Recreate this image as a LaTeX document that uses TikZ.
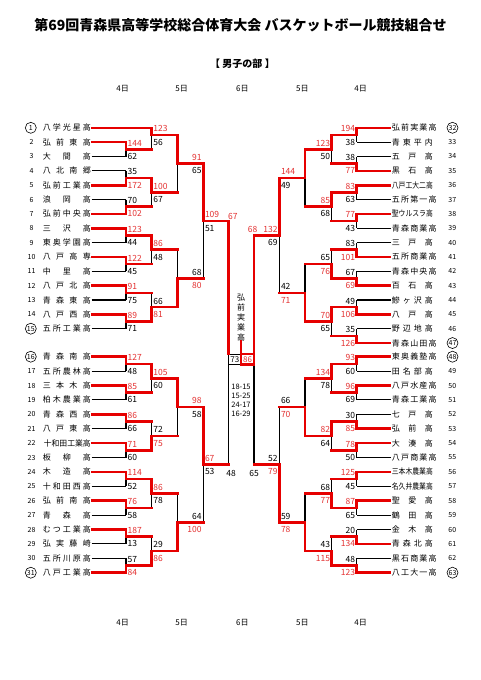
\documentclass[tikz,border=0pt]{standalone}
\usepackage{fontspec}
\setmainfont{Noto Sans CJK JP}
\usepackage{graphicx}
\pgfdeclarelayer{fg}
\pgfsetlayers{main,fg}
\definecolor{linered}{RGB}{230,0,0}
\definecolor{textred}{RGB}{228,50,50}
\newcounter{sc}
\def\splitsc#1/#2\relax{\def\sct{#1}\def\scb{#2}}
\tikzset{
 blk/.style={line width=1.1pt,black},
 win/.style={line width=2.6pt,linered,line cap=rect,line join=miter},
 scr/.style={inner sep=0pt,text=textred,font=\fontsize{8.5}{9}\selectfont},
 sck/.style={inner sep=0pt,text=black,font=\fontsize{8.5}{9}\selectfont},
 nm/.style={inner sep=0pt,font=\fontsize{8}{9}\selectfont},
 num/.style={inner sep=0pt,font=\fontsize{7}{8}\selectfont},
 seed/.style={circle,draw,line width=0.6pt,minimum size=11pt,inner sep=0pt},
 day/.style={inner sep=0pt,font=\fontsize{8}{9}\selectfont},
}
% #1 anchor, #2 label x, #3 x, #4 next x, #5 y top, #6 y bottom, #7 y out, #8 winner t/b, #9 scores
\newcommand\mtch[9]{%
 \pgfmathsetmacro\yT{#5}\pgfmathsetmacro\yB{#6}\pgfmathsetmacro\yO{#7}%
 \splitsc#9\relax
 \stepcounter{sc}\edef\scn{\arabic{sc}}%
 \draw[blk] (#3,\yT) -- (#3,\yB);
 \if t#8%
  \begin{pgfonlayer}{fg}\draw[win] (#3,\yT) -- (#3,\yO) -- (#4,\yO);\end{pgfonlayer}
  \node[scr,anchor=#1] (s\scn u) at (#2,\yO-6.2) {\sct};
  \node[sck,anchor=#1] (s\scn l) at (#2,\yO+7.2) {\scb};
 \else
  \begin{pgfonlayer}{fg}\draw[win] (#3,\yB) -- (#3,\yO) -- (#4,\yO);\end{pgfonlayer}
  \node[sck,anchor=#1] (s\scn u) at (#2,\yO-6.2) {\sct};
  \node[scr,anchor=#1] (s\scn l) at (#2,\yO+7.2) {\scb};
 \fi
}
% #1 num, #2 y, #3 name, #4 end x, #5 r/k, #6 s/n
\newcommand\teamL[6]{%
 \pgfmathsetmacro\tY{#2}%
 \node[nm,anchor=east] (tL#1) at (91,\tY) {\makebox[48pt][s]{#3}};
 \if s#6\node[num,seed] (nL#1) at (30.8,\tY) {#1};\else\node[num] (nL#1) at (31.5,\tY) {#1};\fi
 \if r#5\begin{pgfonlayer}{fg}\draw[win] ([xshift=1.6pt]tL#1.east) -- (#4,\tY);\end{pgfonlayer}%
 \else\draw[blk] ([xshift=0.5pt]tL#1.east) -- (#4,\tY);\fi
}
\newcommand\teamR[6]{%
 \pgfmathsetmacro\tY{#2}%
 \node[nm,anchor=west] (tR#1) at (391.7,\tY) {\makebox[41pt][s]{#3}};
 \if s#6\node[num,seed] (nR#1) at (452.5,\tY) {#1};\else\node[num] (nR#1) at (452.3,\tY) {#1};\fi
 \if r#5\begin{pgfonlayer}{fg}\draw[win] ([xshift=-1.6pt]tR#1.west) -- (#4,\tY);\end{pgfonlayer}%
 \else\draw[blk] ([xshift=-0.5pt]tR#1.west) -- (#4,\tY);\fi
}
\begin{document}
\begin{tikzpicture}[x=1pt,y=-1pt,
 declare function={ltop(\i)=127.8+(\i-1)*14.35; lbot(\i)=356.7+(\i-16)*14.4;
  rtop(\i)=127.8+(\i-32)*14.35; rbot(\i)=356.7+(\i-48)*14.4;}]
\fill[white] (0,0) rectangle (481,680);
\useasboundingbox (0,0) rectangle (481,680);

\node[inner sep=0pt,font=\bfseries\fontsize{14}{16}\selectfont] (title) at (240.5,25) {第69回青森県高等学校総合体育大会 バスケットボール競技組合せ};
\node[inner sep=0pt,font=\bfseries\fontsize{10}{12}\selectfont] (sub) at (242.5,63.3) {【 男子の部 】};
\foreach \x/\d [count=\k] in {122.7/4,181.7/5,242.3/6,302.3/5,360.7/4}{
 \node[day] (dt\k) at (\x,88.3) {\d 日};
 \node[day] (db\k) at (\x,622.3) {\d 日};
}

% left teams
\teamL{1}{ltop(1)}{八 学 光 星 高}{151.7}{r}{s}
\teamL{2}{ltop(2)}{弘 前 東 高}{126}{r}{n}
\teamL{3}{ltop(3)}{大 間 高}{126}{k}{n}
\teamL{4}{ltop(4)}{八 北 南 郷}{126}{k}{n}
\teamL{5}{ltop(5)}{弘 前 工 業 高}{126}{r}{n}
\teamL{6}{ltop(6)}{浪 岡 高}{126}{k}{n}
\teamL{7}{ltop(7)}{弘 前 中 央 高}{126}{r}{n}
\teamL{8}{ltop(8)}{三 沢 高}{126}{r}{n}
\teamL{9}{ltop(9)}{東 奥 学 園 高}{126}{k}{n}
\teamL{10}{ltop(10)}{八 戸 高 専}{126}{r}{n}
\teamL{11}{ltop(11)}{中 里 高}{126}{k}{n}
\teamL{12}{ltop(12)}{八 戸 北 高}{126}{r}{n}
\teamL{13}{ltop(13)}{青 森 東 高}{126}{k}{n}
\teamL{14}{ltop(14)}{八 戸 西 高}{126}{r}{n}
\teamL{15}{ltop(15)}{五 所 工 業 高}{126}{k}{s}
\teamL{16}{lbot(16)}{青 森 南 高}{126}{r}{s}
\teamL{17}{lbot(17)}{五 所 農 林 高}{126}{k}{n}
\teamL{18}{lbot(18)}{三 本 木 高}{126}{r}{n}
\teamL{19}{lbot(19)}{柏 木 農 業 高}{126}{k}{n}
\teamL{20}{lbot(20)}{青 森 西 高}{126}{r}{n}
\teamL{21}{lbot(21)}{八 戸 東 高}{126}{k}{n}
\teamL{22}{lbot(22)}{\hfill\resizebox{47pt}{\height}{十和田工業高}}{126}{r}{n}
\teamL{23}{lbot(23)}{板 柳 高}{126}{k}{n}
\teamL{24}{lbot(24)}{木 造 高}{126}{r}{n}
\teamL{25}{lbot(25)}{十 和 田 西 高}{126}{k}{n}
\teamL{26}{lbot(26)}{弘 前 南 高}{126}{r}{n}
\teamL{27}{lbot(27)}{青 森 高}{126}{k}{n}
\teamL{28}{lbot(28)}{む つ 工 業 高}{126}{r}{n}
\teamL{29}{lbot(29)}{弘 実 藤 崎}{126}{k}{n}
\teamL{30}{lbot(30)}{五 所 川 原 高}{126}{k}{n}
\teamL{31}{lbot(31)}{八 戸 工 業 高}{126}{r}{s}

% right teams
\teamR{32}{rtop(32)}{弘 前 実 業 高}{356.7}{r}{s}
\teamR{33}{rtop(33)}{青 東 平 内}{356.7}{k}{n}
\teamR{34}{rtop(34)}{五 戸 高}{356.7}{k}{n}
\teamR{35}{rtop(35)}{黒 石 高}{356.7}{r}{n}
\teamR{36}{rtop(36)}{\resizebox{41pt}{\height}{八戸工大二高}}{356.7}{r}{n}
\teamR{37}{rtop(37)}{五 所 第 一 高}{356.7}{k}{n}
\teamR{38}{rtop(38)}{\resizebox{41pt}{\height}{聖ウルスラ高}}{356.7}{r}{n}
\teamR{39}{rtop(39)}{青 森 商 業 高}{356.7}{k}{n}
\teamR{40}{rtop(40)}{三 戸 高}{356.7}{k}{n}
\teamR{41}{rtop(41)}{五 所 商 業 高}{356.7}{r}{n}
\teamR{42}{rtop(42)}{青 森 中 央 高}{356.7}{k}{n}
\teamR{43}{rtop(43)}{百 石 高}{356.7}{r}{n}
\teamR{44}{rtop(44)}{鰺 ヶ 沢 高}{356.7}{k}{n}
\teamR{45}{rtop(45)}{八 戸 高}{356.7}{r}{n}
\teamR{46}{rtop(46)}{野 辺 地 高}{356.7}{k}{n}
\teamR{47}{rtop(47)}{青 森 山 田 高}{356.7}{r}{s}
\teamR{48}{rbot(48)}{東 奥 義 塾 高}{356.7}{r}{s}
\teamR{49}{rbot(49)}{田 名 部 高}{356.7}{k}{n}
\teamR{50}{rbot(50)}{八 戸 水 産 高}{356.7}{r}{n}
\teamR{51}{rbot(51)}{青 森 工 業 高}{356.7}{k}{n}
\teamR{52}{rbot(52)}{七 戸 高}{356.7}{k}{n}
\teamR{53}{rbot(53)}{弘 前 高}{356.7}{r}{n}
\teamR{54}{rbot(54)}{大 湊 高}{356.7}{r}{n}
\teamR{55}{rbot(55)}{八 戸 商 業 高}{356.7}{k}{n}
\teamR{56}{rbot(56)}{\resizebox{41pt}{\height}{三本木農業高}}{356.7}{r}{n}
\teamR{57}{rbot(57)}{\resizebox{41pt}{\height}{名久井農業高}}{356.7}{k}{n}
\teamR{58}{rbot(58)}{聖 愛 高}{356.7}{r}{n}
\teamR{59}{rbot(59)}{鶴 田 高}{356.7}{k}{n}
\teamR{60}{rbot(60)}{金 木 高}{356.7}{k}{n}
\teamR{61}{rbot(61)}{青 森 北 高}{356.7}{r}{n}
\teamR{62}{rbot(62)}{黒 石 商 業 高}{356.7}{k}{n}
\teamR{63}{rbot(63)}{八 工 大 一 高}{356.7}{r}{s}

% left round 1
\mtch{west}{127.5}{126}{151.7}{ltop(2)}{ltop(3)}{ltop(2.5)}{t}{144/62}
\mtch{west}{127.5}{126}{151.7}{ltop(4)}{ltop(5)}{ltop(4.5)}{b}{35/172}
\mtch{west}{127.5}{126}{151.7}{ltop(6)}{ltop(7)}{ltop(6.5)}{b}{70/102}
\mtch{west}{127.5}{126}{151.7}{ltop(8)}{ltop(9)}{ltop(8.5)}{t}{123/44}
\mtch{west}{127.5}{126}{151.7}{ltop(10)}{ltop(11)}{ltop(10.5)}{t}{122/45}
\mtch{west}{127.5}{126}{151.7}{ltop(12)}{ltop(13)}{ltop(12.5)}{t}{91/75}
\mtch{west}{127.5}{126}{151.7}{ltop(14)}{ltop(15)}{ltop(14.5)}{t}{89/71}
\mtch{west}{127.5}{126}{151.7}{lbot(16)}{lbot(17)}{lbot(16.5)}{t}{127/48}
\mtch{west}{127.5}{126}{151.7}{lbot(18)}{lbot(19)}{lbot(18.5)}{t}{85/61}
\mtch{west}{127.5}{126}{151.7}{lbot(20)}{lbot(21)}{lbot(20.5)}{t}{86/66}
\mtch{west}{127.5}{126}{151.7}{lbot(22)}{lbot(23)}{lbot(22.5)}{t}{71/60}
\mtch{west}{127.5}{126}{151.7}{lbot(24)}{lbot(25)}{lbot(24.5)}{t}{114/52}
\mtch{west}{127.5}{126}{151.7}{lbot(26)}{lbot(27)}{lbot(26.5)}{t}{76/58}
\mtch{west}{127.5}{126}{151.7}{lbot(28)}{lbot(29)}{lbot(28.5)}{t}{187/13}
\mtch{west}{127.5}{126}{151.7}{lbot(30)}{lbot(31)}{lbot(30.5)}{b}{57/84}
% left round 2
\mtch{west}{153.2}{151.7}{177.3}{ltop(1)}{ltop(2.5)}{ltop(1.5)}{t}{123/56}
\mtch{west}{153.2}{151.7}{177.3}{ltop(4.5)}{ltop(6.5)}{ltop(5.5)}{t}{100/67}
\mtch{west}{153.2}{151.7}{177.3}{ltop(8.5)}{ltop(10.5)}{ltop(9.5)}{t}{86/48}
\mtch{west}{153.2}{151.7}{177.3}{ltop(12.5)}{ltop(14.5)}{ltop(13.5)}{b}{66/81}
\mtch{west}{153.2}{151.7}{177.3}{lbot(16.5)}{lbot(18.5)}{lbot(17.5)}{t}{105/60}
\mtch{west}{153.2}{151.7}{177.3}{lbot(20.5)}{lbot(22.5)}{lbot(21.5)}{b}{72/75}
\mtch{west}{153.2}{151.7}{177.3}{lbot(24.5)}{lbot(26.5)}{lbot(25.5)}{t}{86/78}
\mtch{west}{153.2}{151.7}{177.3}{lbot(28.5)}{lbot(30.5)}{lbot(29.5)}{b}{29/86}
% left round 3
\mtch{east}{201.8}{177.3}{203.3}{ltop(1.5)}{ltop(5.5)}{ltop(3.5)}{t}{91/65}
\mtch{east}{201.8}{177.3}{203.3}{ltop(9.5)}{ltop(13.5)}{ltop(11.5)}{b}{68/80}
\mtch{east}{201.8}{177.3}{203.3}{lbot(17.5)}{lbot(21.5)}{lbot(19.5)}{t}{98/58}
\mtch{east}{201.8}{177.3}{203.3}{lbot(25.5)}{lbot(29.5)}{lbot(27.5)}{b}{64/100}
% left round 4
\mtch{west}{204.8}{203.3}{228.7}{ltop(3.5)}{ltop(11.5)}{ltop(7.5)}{t}{109/51}
\mtch{west}{204.8}{203.3}{228.7}{lbot(19.5)}{lbot(27.5)}{lbot(23.5)}{t}{67/53}

% right round 1
\mtch{east}{355.2}{356.7}{331.7}{rtop(32)}{rtop(33)}{rtop(32.5)}{t}{194/38}
\mtch{east}{355.2}{356.7}{331.7}{rtop(34)}{rtop(35)}{rtop(34.5)}{b}{38/77}
\mtch{east}{355.2}{356.7}{331.7}{rtop(36)}{rtop(37)}{rtop(36.5)}{t}{83/63}
\mtch{east}{355.2}{356.7}{331.7}{rtop(38)}{rtop(39)}{rtop(38.5)}{t}{77/43}
\mtch{east}{355.2}{356.7}{331.7}{rtop(40)}{rtop(41)}{rtop(40.5)}{b}{83/101}
\mtch{east}{355.2}{356.7}{331.7}{rtop(42)}{rtop(43)}{rtop(42.5)}{b}{67/69}
\mtch{east}{355.2}{356.7}{331.7}{rtop(44)}{rtop(45)}{rtop(44.5)}{b}{49/106}
\mtch{east}{355.2}{356.7}{331.7}{rtop(46)}{rtop(47)}{rtop(46.5)}{b}{35/126}
\mtch{east}{355.2}{356.7}{331.7}{rbot(48)}{rbot(49)}{rbot(48.5)}{t}{93/60}
\mtch{east}{355.2}{356.7}{331.7}{rbot(50)}{rbot(51)}{rbot(50.5)}{t}{96/69}
\mtch{east}{355.2}{356.7}{331.7}{rbot(52)}{rbot(53)}{rbot(52.5)}{b}{30/85}
\mtch{east}{355.2}{356.7}{331.7}{rbot(54)}{rbot(55)}{rbot(54.5)}{t}{78/50}
\mtch{east}{355.2}{356.7}{331.7}{rbot(56)}{rbot(57)}{rbot(56.5)}{t}{125/45}
\mtch{east}{355.2}{356.7}{331.7}{rbot(58)}{rbot(59)}{rbot(58.5)}{t}{87/65}
\mtch{east}{355.2}{356.7}{331.7}{rbot(60)}{rbot(61)}{rbot(60.5)}{b}{20/134}
\mtch{east}{355.2}{356.7}{331.7}{rbot(62)}{rbot(63)}{rbot(62.5)}{b}{48/123}
% right round 2
\mtch{east}{330.2}{331.7}{305}{rtop(32.5)}{rtop(34.5)}{rtop(33.5)}{t}{123/50}
\mtch{east}{330.2}{331.7}{305}{rtop(36.5)}{rtop(38.5)}{rtop(37.5)}{t}{85/68}
\mtch{east}{330.2}{331.7}{305}{rtop(40.5)}{rtop(42.5)}{rtop(41.5)}{b}{65/76}
\mtch{east}{330.2}{331.7}{305}{rtop(44.5)}{rtop(46.5)}{rtop(45.5)}{t}{70/65}
\mtch{east}{330.2}{331.7}{305}{rbot(48.5)}{rbot(50.5)}{rbot(49.5)}{t}{134/78}
\mtch{east}{330.2}{331.7}{305}{rbot(52.5)}{rbot(54.5)}{rbot(53.5)}{t}{82/64}
\mtch{east}{330.2}{331.7}{305}{rbot(56.5)}{rbot(58.5)}{rbot(57.5)}{b}{68/77}
\mtch{east}{330.2}{331.7}{305}{rbot(60.5)}{rbot(62.5)}{rbot(61.5)}{b}{43/115}
% right round 3
\mtch{west}{280.8}{305}{279.3}{rtop(33.5)}{rtop(37.5)}{rtop(35.5)}{t}{144/49}
\mtch{west}{280.8}{305}{279.3}{rtop(41.5)}{rtop(45.5)}{rtop(43.5)}{b}{42/71}
\mtch{west}{280.8}{305}{279.3}{rbot(49.5)}{rbot(53.5)}{rbot(51.5)}{b}{66/70}
\mtch{west}{280.8}{305}{279.3}{rbot(57.5)}{rbot(61.5)}{rbot(59.5)}{b}{59/78}
% right round 4
\mtch{east}{277.8}{279.3}{254}{rtop(35.5)}{rtop(43.5)}{rtop(39.5)}{t}{132/69}
\mtch{east}{277.8}{279.3}{254}{rbot(51.5)}{rbot(59.5)}{rbot(55.5)}{b}{52/79}

% semifinals and final
\pgfmathsetmacro\yLa{ltop(7.5)}\pgfmathsetmacro\yLb{lbot(23.5)}
\pgfmathsetmacro\yRa{rtop(39.5)}\pgfmathsetmacro\yRb{rbot(55.5)}
\begin{pgfonlayer}{fg}
\draw[win] (228.7,\yLa) -- (228.7,354);
\draw[win] (254,\yRa) -- (254,354);
\end{pgfonlayer}
\draw[blk] (228.7,364.3) -- (228.7,\yLb);
\draw[blk] (254,364.3) -- (254,\yRb);
\node[scr] (sfl1) at (232.8,216.7) {67};
\node[sck] (sfl2) at (231,473.3) {48};
\node[scr] (sfr1) at (252.6,229.8) {68};
\node[sck] (sfr2) at (254,473.3) {65};
\draw[blk,line width=0.9pt] (228.7,354) rectangle (241,364.3);
\node[sck,font=\fontsize{8}{9}\selectfont] (fl) at (234.9,359.3) {73};
\begin{pgfonlayer}{fg}
\draw[win,line cap=butt] (241,354) rectangle (254,364.3);
\end{pgfonlayer}
\node[scr,font=\fontsize{8}{9}\selectfont] (fr) at (247.5,359.3) {86};
\node[inner sep=0pt,align=center,font=\fontsize{8}{10}\selectfont] (champ) at (241,317.7) {弘\\前\\実\\業\\高};
\begin{pgfonlayer}{fg}
\draw[win,line cap=butt] ([yshift=1pt]champ.south) -- (241,354);
\end{pgfonlayer}
\node[inner sep=0pt,align=center,font=\fontsize{7.5}{9.2}\selectfont] (qs) at (241,400.5) {18-15\\15-25\\24-17\\16-29};
\end{tikzpicture}
\end{document}
